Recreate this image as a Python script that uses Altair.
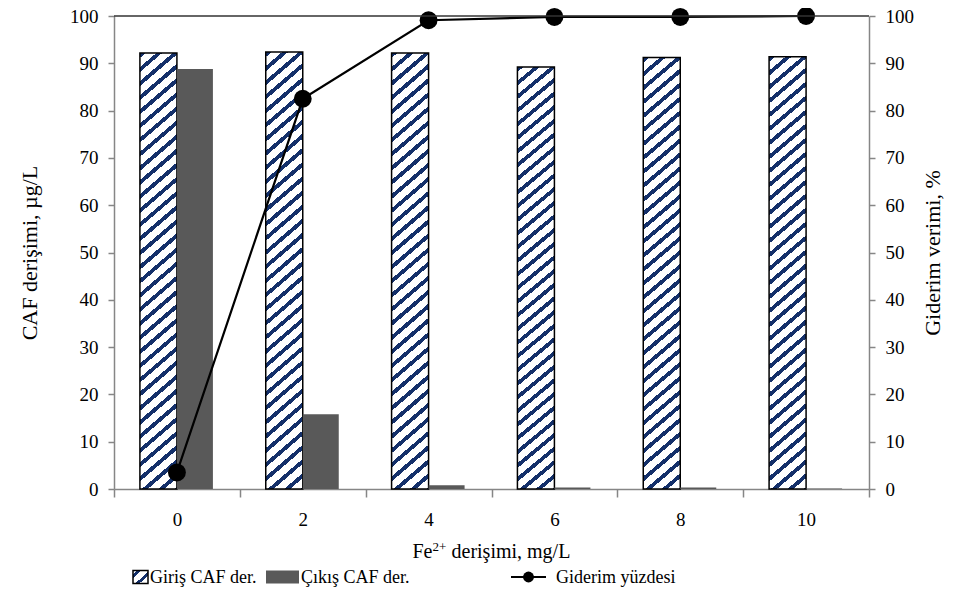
import altair as alt
import pandas as pd

# ---- data ----
cats = ["0", "2", "4", "6", "8", "10"]
giris = [92.2, 92.4, 92.2, 89.2, 91.2, 91.4]      # Giriş CAF der. (µg/L)
cikis = [88.8, 15.8, 0.8, 0.3, 0.3, 0.1]          # Çıkış CAF der. (µg/L)
verim = [3.5, 82.5, 99.1, 99.8, 99.8, 100.0]      # Giderim yüzdesi (%)

df = pd.DataFrame({"cat": cats, "giris": giris, "cikis": cikis, "verim": verim})

W, H = 755, 473
FONT = "Liberation Serif"
NAVY = "#14306a"
AXC = "#868686"
TFS = 20   # x title font size
YFS = 22   # y titles font size
LFS = 19   # tick label font size
GFS = 18   # legend font size


def hatch(s, w, h, V, frac, phase=0.0):
    """linear gradient giving diagonal stripes (slope s) in a w x h box"""
    r = s * w / h
    b = (1 + r) / (1 + r * r)
    a = r * b
    n = (s * w + h) / V
    stops = []
    k = -1
    while True:
        p0 = (k + phase) / n
        p1 = (k + phase + frac) / n
        p2 = (k + phase + 1) / n
        for lo, hi, col in ((p0, p1, NAVY), (p1, p2, "white")):
            lo_c, hi_c = max(0.0, lo), min(1.0, hi)
            if hi_c > lo_c:
                stops.append(alt.GradientStop(offset=round(lo_c, 5), color=col))
                stops.append(alt.GradientStop(offset=round(hi_c, 5), color=col))
        if p2 >= 1:
            break
        k += 1
    return alt.LinearGradient(gradient="linear", stops=stops, x1=0, y1=0, x2=a, y2=b)


bar_h = sum(giris) / len(giris) / 100 * H
bar_fill = hatch(0.85, 37, bar_h, 14, 0.36)
icon_fill = hatch(0.9, 15, 13, 11, 0.35, phase=0.35)

x_enc = alt.X(
    "cat:N", sort=cats,
    scale=alt.Scale(paddingInner=0, paddingOuter=0),
    axis=alt.Axis(
        title=None, tickBand="extent", labelAngle=0,
        labelFont=FONT, labelFontSize=LFS, labelColor="black", labelPadding=13,
        domainColor=AXC, domainWidth=1.5, tickColor=AXC,
        tickWidth=1.5, tickSize=8, grid=False,
    ),
)

yl_axis = alt.Axis(
    title="CAF derişimi, µg/L", values=list(range(0, 101, 10)), orient="left",
    labelFont=FONT, labelFontSize=LFS, labelColor="black", labelPadding=10,
    titleFont=FONT, titleFontSize=YFS, titleFontWeight="normal", titleColor="black",
    titlePadding=28, domainColor=AXC, domainWidth=1.5, tickColor=AXC, tickWidth=1.5,
    tickSize=6, grid=False,
)
yr_axis = alt.Axis(
    title="Giderim verimi, %", values=list(range(0, 101, 10)), orient="right",
    labelFont=FONT, labelFontSize=LFS, labelColor="black", labelPadding=10,
    titleFont=FONT, titleFontSize=YFS, titleFontWeight="normal", titleColor="black",
    titleAngle=270, titleX=63, titleY=H / 2, titleAlign="center", titleBaseline="middle",
    domainColor=AXC, domainWidth=1.5, tickColor=AXC,
    tickWidth=1.5, tickSize=6, grid=False,
)
yscale = alt.Scale(domain=[0, 100], nice=False, zero=True)

base = alt.Chart(df)

hatched = base.mark_bar(width=37, xOffset=-18.5, fill=bar_fill, stroke="black",
                        strokeWidth=1.5).encode(
    x=x_enc, y=alt.Y("giris:Q", scale=yscale, axis=yl_axis))
gray = base.mark_bar(width=36, xOffset=18, color="#595959").encode(
    x=x_enc, y=alt.Y("cikis:Q", scale=yscale, axis=yl_axis))
bars = alt.layer(hatched, gray)

line = base.mark_line(color="black", strokeWidth=2.2).encode(
    x=x_enc, y=alt.Y("verim:Q", scale=yscale, axis=yr_axis))
pts = base.mark_point(filled=True, color="black", size=320, opacity=1).encode(
    x=x_enc, y=alt.Y("verim:Q", scale=yscale, axis=yr_axis))
lines = alt.layer(line, pts)

one = alt.Chart(pd.DataFrame({"k": [0]}))
top_rule = one.mark_rule(color="#333333", strokeWidth=1.5).encode(
    x=alt.value(0), x2=alt.value(W), y=alt.value(0))

# ---- x axis title with superscript ----
XT_Y = 542
xt_style = dict(font=FONT, color="black", align="left", baseline="alphabetic")
xt1 = one.mark_text(text="Fe", fontSize=TFS, **xt_style).encode(
    x=alt.value(298.5), y=alt.value(XT_Y))
xt2 = one.mark_text(text="2+", fontSize=13, **xt_style).encode(
    x=alt.value(318.5), y=alt.value(XT_Y - 7))
xt3 = one.mark_text(text="derişimi, mg/L", fontSize=TFS, **xt_style).encode(
    x=alt.value(337.5), y=alt.value(XT_Y))

# ---- legend ----
LY = 561
leg_icon = one.mark_rect(fill=icon_fill, stroke="black", strokeWidth=1.5).encode(
    x=alt.value(19), x2=alt.value(34), y=alt.value(LY - 6.5), y2=alt.value(LY + 6.5))
leg_gray = one.mark_rect(color="#595959").encode(
    x=alt.value(152), x2=alt.value(185), y=alt.value(LY - 6.5), y2=alt.value(LY + 6.5))
leg_line = one.mark_rule(color="black", strokeWidth=2.2).encode(
    x=alt.value(397), x2=alt.value(432), y=alt.value(LY))
leg_pt = one.mark_point(filled=True, color="black", size=120, opacity=1).encode(
    x=alt.value(414.5), y=alt.value(LY))
leg_txt_style = dict(font=FONT, fontSize=GFS, color="black", align="left", baseline="middle")
t1 = one.mark_text(text="Giriş CAF der.", **leg_txt_style).encode(x=alt.value(36), y=alt.value(LY + 1))
t2 = one.mark_text(text="Çıkış CAF der.", **leg_txt_style).encode(x=alt.value(187), y=alt.value(LY + 1))
t3 = one.mark_text(text="Giderim yüzdesi", **leg_txt_style).encode(x=alt.value(442), y=alt.value(LY + 1))

chart = alt.layer(
    bars, lines, top_rule, xt1, xt2, xt3,
    leg_icon, leg_gray, leg_line, leg_pt, t1, t2, t3
).resolve_scale(y="independent").properties(
    width=W, height=H,
    autosize=alt.AutoSizeParams(type="none"),
    padding={"left": 106, "top": 8, "right": 76, "bottom": 112},
).configure_view(stroke=None)

chart.save("out.html", embed_options={"renderer": "svg", "actions": False})
